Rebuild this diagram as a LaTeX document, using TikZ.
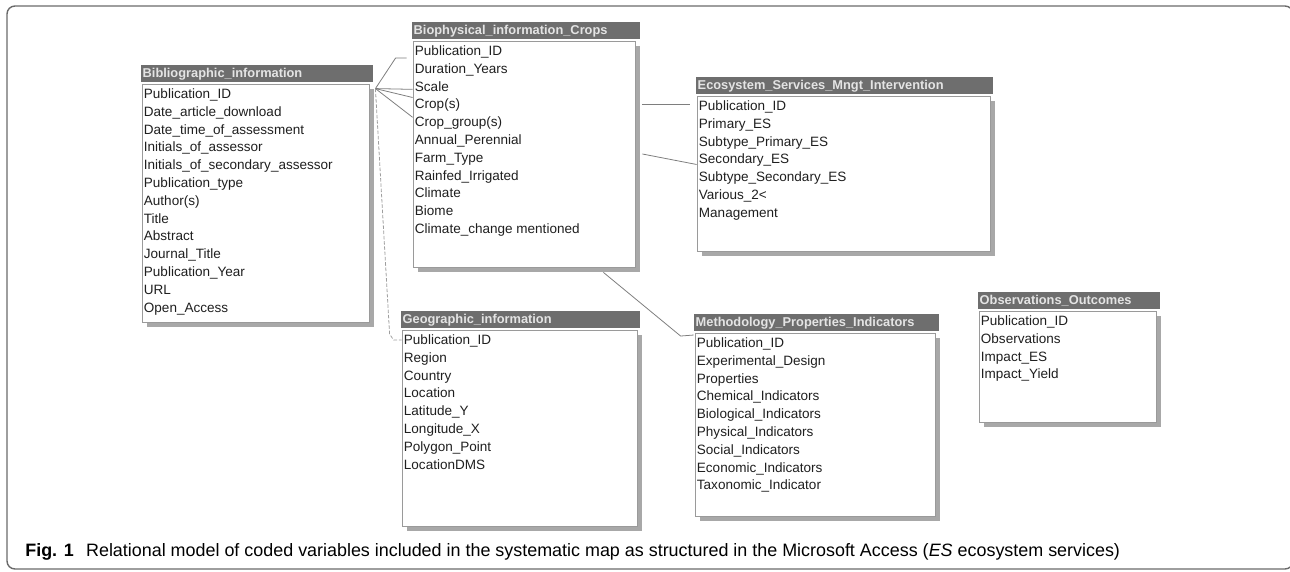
\documentclass[tikz,border=0pt]{standalone}
\usepackage{fontspec}
\setmainfont{Liberation Sans}
\usetikzlibrary{positioning, calc, shadows}
\definecolor{bargray}{HTML}{6E6E6E}
\definecolor{hdrtext}{HTML}{E4E4E4}
\definecolor{boxgray}{HTML}{9A9A9A}
\definecolor{shadegray}{HTML}{A8A8A8}
\definecolor{linkgray}{HTML}{7E7E7E}
\definecolor{framegray}{HTML}{6A6A6A}

\begin{document}
\begin{tikzpicture}[x=0.02cm, y=-0.02cm,
    tbl/.style={draw=boxgray, fill=white, line width=0.5pt, inner sep=0pt,
        drop shadow={shadow xshift=0.1cm, shadow yshift=-0.1cm, fill=shadegray, opacity=1}},
    hdr/.style={fill=bargray, text=hdrtext, anchor=south west, align=left, inner xsep=1pt, inner ysep=0pt,
        minimum height=0.34cm, font=\bfseries\fontsize{7.3}{8}\selectfont},
    fld/.style={anchor=base west, inner sep=0pt, text=black!88, font=\fontsize{7.7}{9}\selectfont},
    rel/.style={draw=linkgray, line width=0.45pt},
    dashrel/.style={draw=linkgray!75, line width=0.45pt, dash pattern=on 2pt off 1pt}
]
    \useasboundingbox (0,0) rectangle (1290,571);
    \draw[framegray, line width=0.8pt, rounded corners=0.16cm] (7,6) rectangle (1293,569);

    % tables
    \node[tbl, minimum width=4.54cm, minimum height=4.76cm] (bib) at (255.5,203) {};
    \node[hdr, text width=4.58cm] (bibh) at ($(bib.north west)+(-1,-1)$) {Bibliographic\_information};
    \foreach \f [count=\i] in {Publication\_ID, Date\_article\_download, Date\_time\_of\_assessment,
        Initials\_of\_assessor, Initials\_of\_secondary\_assessor, Publication\_type, Author(s), Title,
        Abstract, Journal\_Title, Publication\_Year, URL, Open\_Access}
        \node[fld] (bib-\i) at ($(bib.north west)+(2,{15+17.8*(\i-1)})$) {\f};

    \node[tbl, minimum width=4.44cm, minimum height=4.52cm] (bio) at (524,154) {};
    \node[hdr, text width=4.49cm] (bioh) at ($(bio.north west)+(-1,-1)$) {Biophysical\_information\_Crops};
    \foreach \f [count=\i] in {Publication\_ID, Duration\_Years, Scale, Crop(s), Crop\_group(s),
        Annual\_Perennial, Farm\_Type, Rainfed\_Irrigated, Climate, Biome, Climate\_change mentioned}
        \node[fld] (bio-\i) at ($(bio.north west)+(2,{15+17.8*(\i-1)})$) {\f};

    \node[tbl, minimum width=5.86cm, minimum height=3.10cm] (eco) at (843.5,173.5) {};
    \node[hdr, text width=5.87cm] (ecoh) at ($(eco.north west)+(-1,-1)$) {Ecosystem\_Services\_Mngt\_Intervention};
    \foreach \f [count=\i] in {Publication\_ID, Primary\_ES, Subtype\_Primary\_ES, Secondary\_ES,
        Subtype\_Secondary\_ES, Various\_2<, Management}
        \node[fld] (eco-\i) at ($(eco.north west)+(2,{15+17.8*(\i-1)})$) {\f};

    \node[tbl, minimum width=4.70cm, minimum height=3.92cm] (geo) at (519.5,428) {};
    \node[hdr, text width=4.71cm] (geoh) at ($(geo.north west)+(-1,-1)$) {Geographic\_information};
    \foreach \f [count=\i] in {Publication\_ID, Region, Country, Location, Latitude\_Y, Longitude\_X,
        Polygon\_Point, LocationDMS}
        \node[fld] (geo-\i) at ($(geo.north west)+(2,{15+17.8*(\i-1)})$) {\f};

    \node[tbl, minimum width=4.80cm, minimum height=3.66cm] (met) at (815,424.5) {};
    \node[hdr, text width=4.83cm] (meth) at ($(met.north west)+(-1,-1)$) {Methodology\_Properties\_Indicators};
    \foreach \f [count=\i] in {Publication\_ID, Experimental\_Design, Properties, Chemical\_Indicators,
        Biological\_Indicators, Physical\_Indicators, Social\_Indicators, Economic\_Indicators,
        Taxonomic\_Indicator}
        \node[fld] (met-\i) at ($(met.north west)+(2,{15+17.8*(\i-1)})$) {\f};

    \node[tbl, minimum width=3.54cm, minimum height=2.22cm] (obs) at (1067.5,366.5) {};
    \node[hdr, text width=3.57cm] (obsh) at ($(obs.north west)+(-1,-1)$) {Observations\_Outcomes};
    \foreach \f [count=\i] in {Publication\_ID, Observations, Impact\_ES, Impact\_Yield}
        \node[fld] (obs-\i) at ($(obs.north west)+(2,{15+17.8*(\i-1)})$) {\f};

    % relationships
    \coordinate (bibj) at ($(bib.north east)+(6,5)$);
    \draw[rel] (bibj) -- ($(bio-1.west)+(-19,6)$) -- ($(bio-1.west)+(-8,6)$);
    \draw[rel] (bibj) -- ($(bio-3.west)+(-2,3)$);
    \draw[rel] (bibj) -- ($(bio-4.west)+(-2,-8)$);
    \draw[rel] (bibj) -- ($(bio-5.west)+(-2,-6)$);
    \draw[dashrel] (bibj) -- ($(geo-1.west)+(-14,-7)$) -- ($(geo-1.west)+(-10,-1)$) -- ($(geo-1.west)+(-2,-1)$);
    \draw[rel] ($(bio.east |- eco-1.west)+(7,-3)$) -- ($(eco-1.west)+(-9,-3)$);
    \draw[rel] ($(bio.east)+(7,0)$) -- ($(eco-4.west)+(-2,4)$);
    \draw[rel] ($(bio.south east)+(-32,5)$) -- ($(met-1.west)+(-16,-8)$) -- ($(met-1.west)+(-3,-9)$);

    \node[anchor=base west, inner sep=0pt, font=\fontsize{10.2}{12}\selectfont] (cap) at (25,556)
        {\textbf{Fig. 1}\hspace{7pt}Relational model of coded variables included in the systematic map as structured in the Microsoft Access (\textit{ES} ecosystem services)};
\end{tikzpicture}
\end{document}
